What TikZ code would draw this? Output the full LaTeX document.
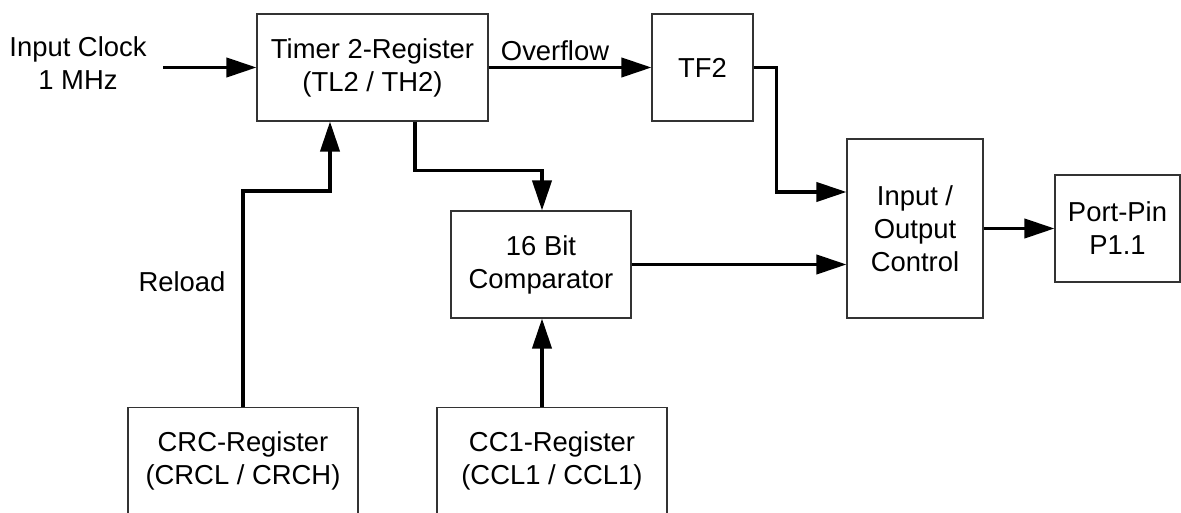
\documentclass[tikz,border=0pt]{standalone}
\usepackage{fontspec}
\setmainfont{Liberation Sans}
\usepackage{xcolor}
\usepackage{tikz}
\usetikzlibrary{arrows.meta,positioning}
\definecolor{boxline}{HTML}{333333}
\tikzset{
  block/.style={draw=boxline, line width=0.8pt, align=center, fill=white, inner sep=2pt, minimum height=26.75mm},
  arrow/.style={-{Triangle[length=7.5mm, width=4.8mm]}, line width=2.4pt, draw=black},
  caption/.style={align=center, inner sep=2pt}
}

\begin{document}
\begin{tikzpicture}[font=\fontsize{19.5}{23.5}\selectfont]
  \useasboundingbox (0,0) rectangle (29.525,12.825);

  \node[block, minimum width=57.75mm] (timer) at (9.3125,11.1375) {Timer 2-Register\\(TL2 / TH2)};
  \node[block, minimum width=25.25mm] (tf2) at (17.5625,11.1375) {TF2};
  \node[block, minimum width=45mm] (comp) at (13.525,6.2125) {16 Bit\\Comparator};
  \node[block, minimum width=34mm, minimum height=44.75mm] (io) at (22.875,7.1125) {Input /\\Output\\Control};
  \node[block, minimum width=31.25mm] (port) at (27.9375,7.1125) {Port-Pin\\P1.1};
  \node[block, minimum width=57.5mm] (crc) at (6.075,1.3) {CRC-Register\\(CRCL / CRCH)};
  \node[block, minimum width=57.5mm] (cc1) at (13.8,1.3) {CC1-Register\\(CCL1 / CCL1)};

  \node[caption] (clk) at (1.95,11.2375) {Input Clock\\1 MHz};
  \node[caption] (ovf) at (13.875,11.55) {Overflow};
  \node[caption] (reload) at (4.55,5.775) {Reload};
  \coordinate (clkin) at (4.075,11.1375);

  \draw[arrow] (clkin) -- (timer.west);
  \draw[arrow] (timer.east) -- (tf2.west);
  \draw[arrow] (tf2.east) -- ++(0.575,0) |- ([yshift=9.125mm]io.west);
  \draw[arrow] (comp.east) -- (comp.east -| io.west);
  \draw[arrow] (io.east) -- (port.west);
  \draw[arrow] ([xshift=10.625mm]timer.south) -- ++(0,-1.225) -| ([xshift=0.25mm]comp.north);
  \draw[arrow] (crc.north) -- ++(0,5.4) -| ([xshift=-10.625mm]timer.south);
  \draw[arrow] ([xshift=0.25mm]comp.south |- cc1.north) -- ([xshift=0.25mm]comp.south);
\end{tikzpicture}
\end{document}
